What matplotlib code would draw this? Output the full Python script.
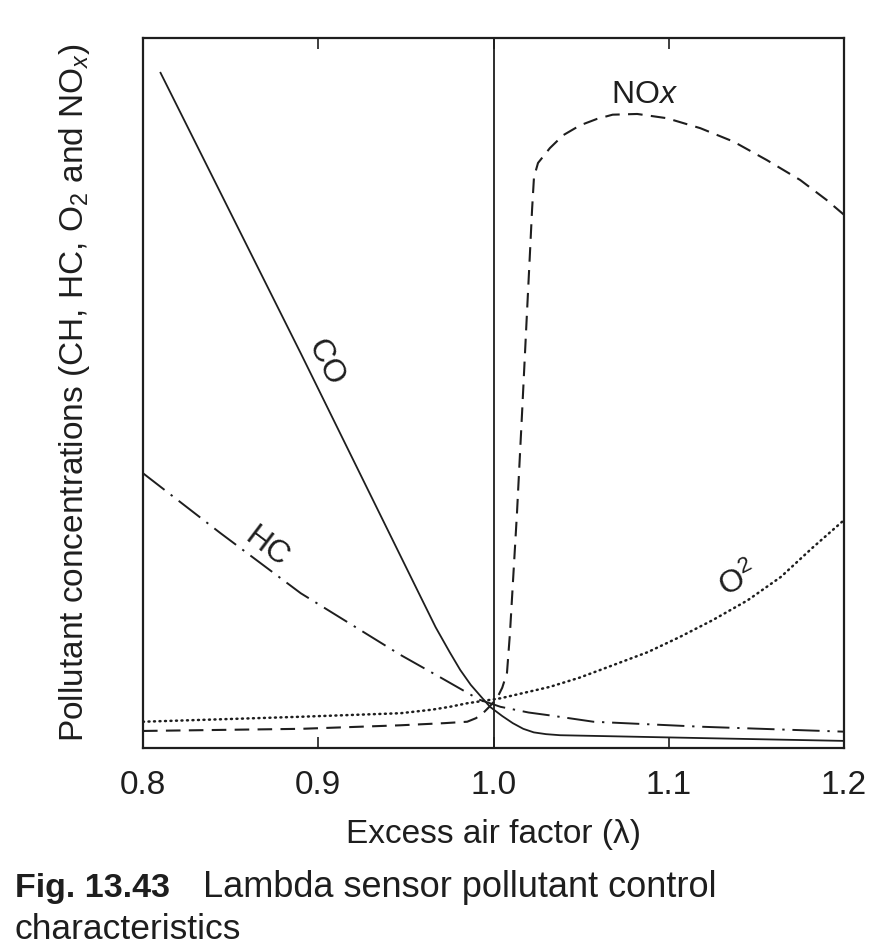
import matplotlib
matplotlib.use('Agg')
import matplotlib.pyplot as plt

# --- valores (lambda, concentração relativa 0-100) ---
co_x = [0.810, 0.890, 0.958, 0.967, 0.975, 0.981, 0.987, 0.993, 0.998, 1.005,
        1.011, 1.017, 1.023, 1.030, 1.038, 1.118, 1.200]
co_y = [95.1, 55.6, 21.5, 17.0, 13.5, 11.0, 8.9, 7.2, 5.8, 4.5,
        3.5, 2.7, 2.2, 1.95, 1.8, 1.4, 1.0]

hc_x = [0.800, 0.844, 0.890, 0.947, 0.970, 0.992, 1.004, 1.020, 1.032, 1.057, 1.118, 1.200]
hc_y = [38.7, 30.3, 21.8, 13.1, 9.9, 6.8, 5.8, 5.0, 4.6, 3.7, 3.0, 2.3]

o2_x = [0.800, 0.890, 0.947, 0.965, 0.975, 0.985, 1.004, 1.032, 1.049, 1.061,
        1.088, 1.106, 1.125, 1.145, 1.164, 1.182, 1.200]
o2_y = [3.7, 4.4, 4.9, 5.4, 5.8, 6.3, 7.0, 8.6, 9.9, 11.0,
        13.5, 15.6, 18.0, 20.8, 24.1, 28.2, 32.1]

nox_x = [0.800, 0.890, 0.947, 0.972, 0.985, 0.990, 0.994, 0.998, 1.002, 1.005,
         1.0077, 1.0094, 1.0134, 1.0163, 1.0191, 1.0208, 1.0220, 1.0231, 1.0254,
         1.0322, 1.0397, 1.0494, 1.059, 1.068, 1.082, 1.099, 1.118, 1.137,
         1.156, 1.175, 1.190, 1.200]
nox_y = [2.4, 2.7, 3.2, 3.5, 3.7, 4.2, 4.9, 5.9, 7.0, 8.5,
         10.6, 16.2, 33.1, 47.2, 61.3, 69.7, 75.8, 80.4, 82.4,
         84.5, 86.3, 87.7, 88.6, 89.2, 89.3, 88.7, 87.3, 85.4,
         82.8, 80.0, 77.2, 75.1]

x_ticks = [0.8, 0.9, 1.0, 1.1, 1.2]
x_ticklabels = ['0.8', '0.9', '1.0', '1.1', '1.2']

plt.rcParams['font.family'] = ['Liberation Sans', 'DejaVu Sans']
plt.rcParams['mathtext.fontset'] = 'custom'
plt.rcParams['mathtext.rm'] = 'Liberation Sans'
plt.rcParams['mathtext.it'] = 'Liberation Sans:italic'
plt.rcParams['mathtext.bf'] = 'Liberation Sans:bold'

ink = '#1e1e1e'
fs = 24

fig = plt.figure(figsize=(8.8, 9.52), dpi=100)
ax = fig.add_axes([143 / 880, 1 - 748 / 952, 701 / 880, 710 / 952])

# curvas
ax.plot(co_x, co_y, color=ink, lw=1.3, solid_joinstyle='round')
ax.plot(hc_x, hc_y, color=ink, lw=1.4, dashes=(14, 4, 1.2, 4))
ax.plot(nox_x, nox_y, color=ink, lw=1.5, dashes=(7, 4))
ax.plot(o2_x, o2_y, color=ink, lw=1.8, dashes=(0.4, 1.8), dash_capstyle='round')
ax.axvline(1.0, color=ink, lw=1.3)

# rótulos das curvas
ax.text(0.904, 54.2, 'CO', rotation=-63, ha='center', va='center', fontsize=23, color=ink)
ax.text(0.8708, 28.3, 'HC', rotation=-37, ha='center', va='center', fontsize=23, color=ink)
ax.text(1.0864, 92.0, r'NO$\mathit{x}$', ha='center', va='center', fontsize=23, color=ink)
ax.text(1.1395, 23.6, r'O$^2$', rotation=27, ha='center', va='center', fontsize=23, color=ink)

ax.set_xlim(0.8, 1.2)
ax.set_ylim(0, 100)
ax.set_xticks(x_ticks)
ax.set_xticklabels(x_ticklabels)
ax.set_yticks([])
ax.tick_params(axis='x', direction='in', length=8, width=1.2, top=True,
               labelsize=fs, pad=16, colors=ink)
for s in ax.spines.values():
    s.set_linewidth(1.6)
    s.set_color(ink)

ax.set_xlabel('Excess air factor (λ)', fontsize=fs, labelpad=13, color=ink)
ax.set_ylabel(r'Pollutant concentrations (CH, HC, O$_2$ and NO$_x$)',
              fontsize=fs, labelpad=37, color=ink)

# legenda da figura
fig.text(15 / 880, 1 - 897 / 952, 'Fig. 13.43', fontsize=24.5, fontweight='bold',
         va='baseline', color=ink)
fig.text(203 / 880, 1 - 897 / 952, 'Lambda sensor pollutant control', fontsize=26,
         va='baseline', color=ink)
fig.text(15 / 880, 1 - 939 / 952, 'characteristics', fontsize=25.5,
         va='baseline', color=ink)

fig.savefig('out.png', dpi=100, facecolor='white')
plt.close(fig)
